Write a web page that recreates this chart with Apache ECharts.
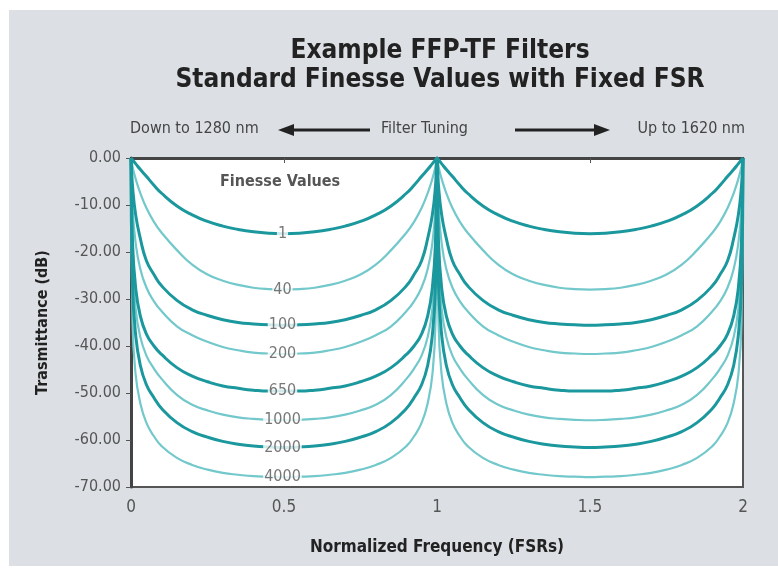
<!DOCTYPE html>
<html>
<head>
<meta charset="utf-8">
<script src="https://cdn.jsdelivr.net/npm/echarts@6/dist/echarts.min.js"></script>
<style>
  html, body { margin: 0; padding: 0; background: #fff; }
  #panel { position: absolute; left: 9px; top: 10px; width: 769px; height: 556px; background: #dce0e4; }
  #main { position: absolute; left: 0; top: 0; width: 778px; height: 573px; }
</style>
</head>
<body>
<div id="panel"></div>
<div id="main"></div>
<script>
// x positions (FSR) of the read points over half a period, 0 -> 0.5
const halfX = [0, 0.005, 0.015, 0.03, 0.05, 0.075, 0.1, 0.15, 0.2, 0.25, 0.3, 0.35, 0.4, 0.45, 0.5]
const finesse = ['1', '40', '100', '200', '650', '1000', '2000', '4000']

// transmittance (dB) at halfX
const f1    = [0, -0.4, -1.2, -2.4, -3.9, -5.8, -7.5, -10.2, -12.1, -13.5, -14.5, -15.2, -15.7, -16.0, -16.1]
const f40   = [0, -1.8, -4.4, -7.4, -10.6, -13.6, -15.9, -19.6, -22.7, -24.8, -26.1, -27.0, -27.6, -27.9, -28.0]
const f100  = [0, -6.0, -12.0, -17.0, -21.8, -24.8, -27.2, -30.3, -32.3, -33.5, -34.4, -35.0, -35.3, -35.5, -35.6]
const f200  = [0, -10.5, -18.0, -23.5, -27.5, -30.5, -32.6, -35.8, -37.7, -39.1, -40.2, -40.9, -41.4, -41.6, -41.7]
const f650  = [0, -18.0, -27.5, -33.5, -37.4, -40.0, -41.8, -44.6, -46.4, -47.6, -48.5, -49.0, -49.4, -49.6, -49.6]
const f1000 = [0, -22.0, -32.0, -38.0, -42.0, -44.8, -47.0, -50.4, -52.5, -53.7, -54.6, -55.2, -55.5, -55.7, -55.8]
const f2000 = [0, -27.0, -37.5, -44.0, -48.2, -51.0, -53.3, -56.3, -58.2, -59.4, -60.3, -60.9, -61.3, -61.5, -61.6]
const f4000 = [0, -35.0, -46.0, -52.0, -56.3, -59.2, -61.3, -63.8, -65.3, -66.3, -67.0, -67.4, -67.7, -67.8, -67.9]

const curves = [f1, f40, f100, f200, f650, f1000, f2000, f4000]
const yTicks = [0, -10, -20, -30, -40, -50, -60, -70]

const dark = '#1b989d'
const light = '#72c8cb'
const font = '"Liberation Sans Narrow", "DejaVu Sans Condensed", sans-serif'

// the curves repeat every FSR and are symmetric about the half point
function fullPeriods(vals) {
  const pts = []
  for (let k = 0; k < 2; k++) {
    for (let i = 0; i < halfX.length; i++) pts.push([k + halfX[i], vals[i]])
    for (let i = halfX.length - 2; i >= 0; i--) {
      if (k === 0 && i === 0) continue
      pts.push([k + 1 - halfX[i], vals[i]])
    }
  }
  return pts
}

const series = curves.map(function (vals, i) {
  return {
    name: finesse[i],
    type: 'line',
    data: fullPeriods(vals),
    showSymbol: false,
    smooth: 0.5,
    lineStyle: { color: i % 2 === 0 ? dark : light, width: i % 2 === 0 ? 3 : 2.2 },
    z: i % 2 === 0 ? 3 : 2
  }
})

// finesse labels sitting on the minimum of each curve
series.push({
  type: 'scatter',
  symbolSize: 0,
  z: 10,
  data: curves.map(function (vals, i) { return [0.495, vals[vals.length - 1], finesse[i]] }),
  label: {
    show: true,
    position: 'inside',
    formatter: function (p) { return p.value[2] },
    color: '#555',
    fontFamily: font,
    fontSize: 16,
    backgroundColor: '#fff',
    padding: [0, 1]
  }
})

const myChart = echarts.init(document.getElementById('main'))
myChart.setOption({
  animation: false,
  title: {
    text: 'Example FFP-TF Filters\nStandard Finesse Values with Fixed FSR',
    left: 435,
    textAlign: 'center',
    top: 32,
    textStyle: { fontFamily: font, fontSize: 26, fontWeight: 'bold', color: '#222', lineHeight: 29 }
  },
  grid: {
    left: 131, right: 35, top: 158, bottom: 86,
    show: true, backgroundColor: '#fff', borderColor: '#555', borderWidth: 2
  },
  xAxis: {
    type: 'value',
    min: 0, max: 2, interval: 0.5,
    name: 'Normalized Frequency (FSRs)',
    nameLocation: 'middle',
    nameGap: 52,
    nameTextStyle: { fontFamily: font, fontSize: 17, fontWeight: 'bold', color: '#222' },
    axisLine: { lineStyle: { color: '#444', width: 3 } },
    axisTick: { show: true, length: 5, lineStyle: { color: '#555' } },
    axisLabel: { color: '#555', fontFamily: font, fontSize: 17, margin: 12 },
    splitLine: { show: false }
  },
  yAxis: {
    type: 'value',
    min: -70, max: 0, interval: 10,
    name: 'Trasmittance (dB)',
    nameLocation: 'middle',
    nameGap: 80,
    nameTextStyle: { fontFamily: font, fontSize: 16, fontWeight: 'bold', color: '#222' },
    axisLine: { show: true, lineStyle: { color: '#444', width: 3 } },
    axisTick: { show: true, length: 5, lineStyle: { color: '#555' } },
    axisLabel: {
      color: '#555', fontFamily: font, fontSize: 16, margin: 10,
      formatter: function (v) { return yTicks.indexOf(v) >= 0 ? v.toFixed(2) : '' }
    },
    splitLine: { show: false }
  },
  graphic: [
    { type: 'text', left: 130, top: 121, style: { text: 'Down to 1280 nm', fill: '#444', font: '16px ' + font } },
    { type: 'text', left: 381, top: 121, style: { text: 'Filter Tuning', fill: '#444', font: '16px ' + font } },
    { type: 'text', right: 33, top: 121, style: { text: 'Up to 1620 nm', fill: '#444', font: '16px ' + font } },
    { type: 'line', shape: { x1: 292, y1: 130, x2: 370, y2: 130 }, style: { stroke: '#222', lineWidth: 3 } },
    { type: 'polygon', shape: { points: [[278, 130], [294, 124], [294, 136]] }, style: { fill: '#222' } },
    { type: 'line', shape: { x1: 515, y1: 130, x2: 596, y2: 130 }, style: { stroke: '#222', lineWidth: 3 } },
    { type: 'polygon', shape: { points: [[610, 130], [594, 124], [594, 136]] }, style: { fill: '#222' } },
    { type: 'text', left: 220, top: 174, style: { text: 'Finesse Values', fill: '#555', font: 'bold 16px ' + font } }
  ],
  series: series
})
</script>
</body>
</html>
